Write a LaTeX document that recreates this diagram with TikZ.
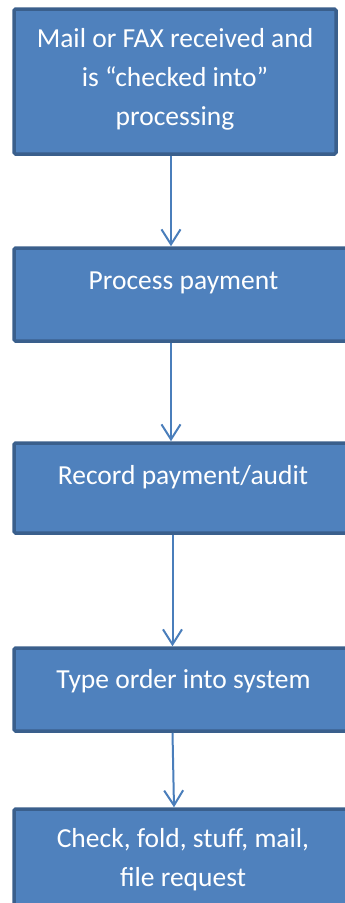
\documentclass[tikz,border=0pt]{standalone}
\usepackage{fontspec}
\setmainfont{Carlito}
\usetikzlibrary{arrows.meta}
\definecolor{boxfill}{HTML}{4F81BD}
\definecolor{boxline}{HTML}{3A5F8C}
\definecolor{flowline}{HTML}{4A7EBB}
\begin{document}
\begin{tikzpicture}[x=1pt,y=-1pt,
  stepbox/.style={rectangle,draw=boxline,fill=boxfill,line width=3.5pt,rounded corners=1.5pt,inner sep=0pt},
  steptext/.style={text=white,font=\fontsize{27.5}{39}\selectfont,align=center,inner sep=0pt},
  flow/.style={draw=flowline,line width=2pt,-{Straight Barb[length=15pt,width=19pt,line width=2pt]}}]
  \clip (0,0) rectangle (345,903);

  \node[stepbox,minimum width=322,minimum height=145] (mail) at (175,81.5) {};
  \node[stepbox,minimum width=339,minimum height=93] (pay) at (183.5,294.5) {};
  \node[stepbox,minimum width=339,minimum height=90] (rec) at (183.5,488) {};
  \node[stepbox,minimum width=339,minimum height=83] (type) at (183.5,689.5) {};
  \node[stepbox,minimum width=339,minimum height=100] (check) at (183.5,859) {};

  \node[steptext] (mailText) at (175,79) {Mail or FAX received and\\is “checked into”\\processing};
  \node[steptext] (payText) at (183.5,283) {Process payment};
  \node[steptext] (recText) at (183,477) {Record payment/audit};
  \node[steptext] (typeText) at (183.5,681) {Type order into system};
  \node[steptext] (checkText) at (183,859.5) {Check, fold, stuff, mail,\\file request};

  \draw[flow] ([xshift=-4pt]mail.south) -- ([xshift=-12.5pt]pay.north);
  \draw[flow] ([xshift=-12.5pt]pay.south) -- ([xshift=-12.5pt]rec.north);
  \draw[flow] ([xshift=-11pt]rec.south) -- ([xshift=-11pt]type.north);
  \draw[flow] ([xshift=-11pt]type.south) -- ([xshift=-9.5pt]check.north);
\end{tikzpicture}
\end{document}
